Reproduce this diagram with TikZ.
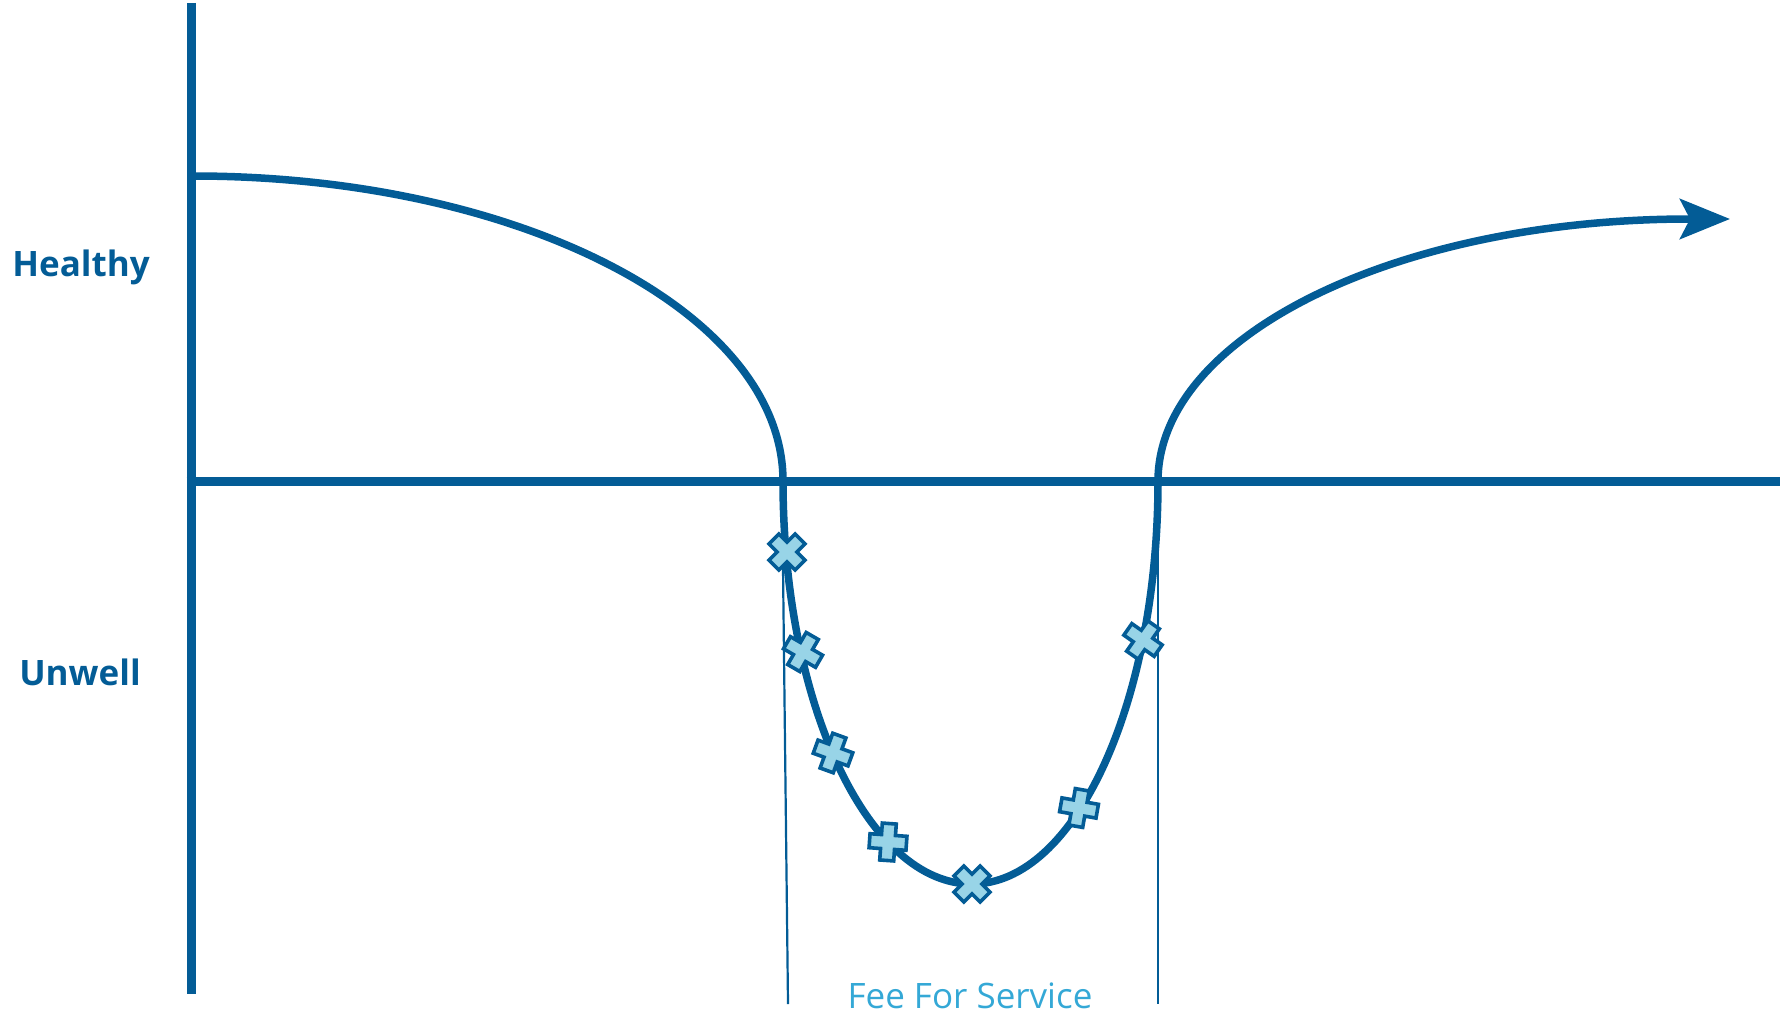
\documentclass[tikz,border=0pt]{standalone}
\usepackage{fontspec}
\setmainfont{Open Sans}
\usetikzlibrary{arrows.meta}
\definecolor{dblue}{HTML}{035C96}
\definecolor{lblue}{HTML}{98D4E7}
\definecolor{tblue}{HTML}{34A8D6}
\newcommand{\drawcross}[4]{%
  \coordinate (#1) at (#2,#3);
  \draw[crossmark, shift={(#1)}, rotate=#4]
    (-7,-18.5) -- (7,-18.5) -- (7,-7) -- (18.5,-7) -- (18.5,7) -- (7,7)
    -- (7,18.5) -- (-7,18.5) -- (-7,7) -- (-18.5,7) -- (-18.5,-7) -- (-7,-7) -- cycle;}
\begin{document}
\begin{tikzpicture}[x=1pt,y=-1pt,
  axis/.style={draw=dblue,line width=9pt},
  curve/.style={draw=dblue,line width=7.5pt},
  guide/.style={draw=dblue,line width=2.2pt},
  crossmark/.style={draw=dblue,fill=lblue,line width=3.6pt,line join=miter},
  lbl/.style={text=dblue,font=\fontsize{35}{42}\selectfont\bfseries,anchor=base,inner sep=0pt},
  svc/.style={text=tblue,font=\fontsize{35}{42}\selectfont,anchor=base,inner sep=0pt}]
\useasboundingbox (0,0) rectangle (1780,1016);
% axes
\coordinate (ytop) at (191,3);
\coordinate (ybot) at (191,994);
\coordinate (xl) at (186.5,481);
\coordinate (xr) at (1780,481);
\draw[axis] (ytop) -- (ybot);
\draw[axis] (xl) -- (xr);
% guide lines
\coordinate (g1t) at (782,481);
\coordinate (g1b) at (788,1004);
\coordinate (g2t) at (1158,481);
\coordinate (g2b) at (1158,1004);
\draw[guide] (g1t) -- (g1b);
\draw[guide] (g2t) -- (g2b);
% health curve
\coordinate (start) at (193,176);
\coordinate (down) at (783,481);
\coordinate (bottom) at (972,884);
\coordinate (up) at (1158,481);
\coordinate (recover) at (1690,219);
\coordinate (tip) at (1730,219);
\draw[curve,-{Stealth[length=50pt,width=40pt,inset=10pt]}]
  (start) .. controls (518.9,176) and (783,312.6) .. (down)
  .. controls (783,703.6) and (867.6,884) .. (bottom)
  .. controls (1074.7,884) and (1158,703.6) .. (up)
  .. controls (1158,336.3) and (1396.2,219) .. (recover) -- (tip);
% crosses
\drawcross{c1}{787}{552}{45}
\drawcross{c2}{803}{652}{-30}
\drawcross{c3}{833}{753}{-20}
\drawcross{c4}{888}{842}{-4}
\drawcross{c5}{972}{884}{45}
\drawcross{c6}{1079}{808}{-10}
\drawcross{c7}{1143}{640}{-35}
% labels
\node[lbl] (healthy) at (81,277) {Healthy};
\node[lbl] (unwell) at (80,685) {Unwell};
\node[svc] (fee) at (970,1008) {Fee For Service};
\end{tikzpicture}
\end{document}
